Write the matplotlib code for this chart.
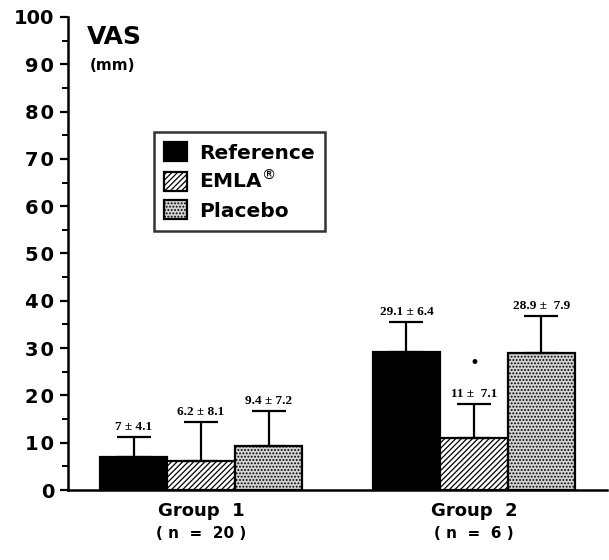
import matplotlib
matplotlib.use("Agg")
import matplotlib.pyplot as plt
import numpy as np

groups = ["Group  1", "Group  2"]
group_n = ["( n  =  20 )", "( n  =  6 )"]
series = ["Reference", "EMLA$^{\\circledR}$", "Placebo"]
means = {
    "Reference": [7.0, 29.1],
    "EMLA": [6.2, 11.0],
    "Placebo": [9.4, 28.9],
}
sds = {
    "Reference": [4.1, 6.4],
    "EMLA": [8.1, 7.1],
    "Placebo": [7.2, 7.9],
}
value_labels = {
    "Reference": ["7 ± 4.1", "29.1 ± 6.4"],
    "EMLA": ["6.2 ± 8.1", "11 ±  7.1"],
    "Placebo": ["9.4 ± 7.2", "28.9 ±  7.9"],
}
yticks = [0, 10, 20, 30, 40, 50, 60, 70, 80, 90, 100]
ytick_labels = ["0", "1\u200a0", "2\u200a0", "3\u200a0", "4\u200a0", "5\u200a0",
                "6\u200a0", "7\u200a0", "8\u200a0", "9\u200a0", "100"]
star_value = 26.8

SANS = "DejaVu Sans"

fig = plt.figure(figsize=(6.09, 5.60), dpi=100)
ax = fig.add_axes([68/609, 1-490/560, (607-68)/609, (490-17)/560])

keys = ["Reference", "EMLA", "Placebo"]
styles = {
    "Reference": dict(facecolor="black", hatch=None),
    "EMLA": dict(facecolor="white", hatch="//////"),
    "Placebo": dict(facecolor="#d4d4d4", hatch="....."),
}
centers = np.array([0.0, 4.04])
offsets = [-1, 0, 1]
plt.rcParams['hatch.linewidth'] = 0.9
handles = []
for k, off, lab in zip(keys, offsets, series):
    x = centers + off
    b = ax.bar(x, means[k], width=1.0, edgecolor="black", linewidth=1.6,
               label=lab, zorder=2, **styles[k])
    handles.append(b)
    ax.errorbar(x, means[k], yerr=[np.zeros(2), sds[k]], fmt="none",
                ecolor="black", elinewidth=1.6, capsize=12, capthick=1.6, zorder=3)
    for xi, m, s, t in zip(x, means[k], sds[k], value_labels[k]):
        ax.text(xi, m + s + 0.9, t, ha="center", va="bottom",
                fontsize=9.5, family="Liberation Serif", fontweight="bold")

ax.text(centers[1], star_value, "•", ha="center", va="center", fontsize=12)

ax.set_xlim(-1.97, 6.01)
ax.set_ylim(0, 100)
ax.spines["top"].set_visible(False)
ax.spines["right"].set_visible(False)
ax.spines["left"].set_linewidth(1.8)
ax.spines["bottom"].set_linewidth(1.8)
ax.set_yticks(yticks)
ax.set_yticklabels(ytick_labels, fontsize=14, fontweight="bold", family=SANS)
ax.set_yticks(np.arange(5, 100, 10), minor=True)
ax.tick_params(axis="y", which="major", length=6, width=1.6, direction="out", pad=4)
ax.tick_params(axis="y", which="minor", length=4, width=1.4, direction="out")
ax.set_xticks([])

for c, g, n in zip(centers, groups, group_n):
    ax.text(c, -2.6, g, ha="center", va="top", fontsize=13, fontweight="bold",
            family=SANS, clip_on=False)
    ax.text(c, -7.6, n, ha="center", va="top", fontsize=11, fontweight="bold",
            family=SANS, clip_on=False)

fig.text(87/609, 1-37/560, "VAS", fontsize=18, fontweight="bold",
         family=SANS, va="center", ha="left")
fig.text(90/609, 1-66/560, "(mm)", fontsize=11, fontweight="bold",
         family=SANS, va="center", ha="left")

leg = ax.legend(handles=handles, loc="upper left",
                bbox_to_anchor=((154-68)/539, (490-132)/473),
                prop=dict(family=SANS, weight="bold", size=14.5),
                frameon=True, fancybox=False, edgecolor="black",
                handlelength=1.15, handleheight=1.1, labelspacing=0.38,
                handletextpad=0.6, borderpad=0.5, borderaxespad=0)
leg.get_frame().set_linewidth(1.8)

fig.savefig("out.png", dpi=100)
